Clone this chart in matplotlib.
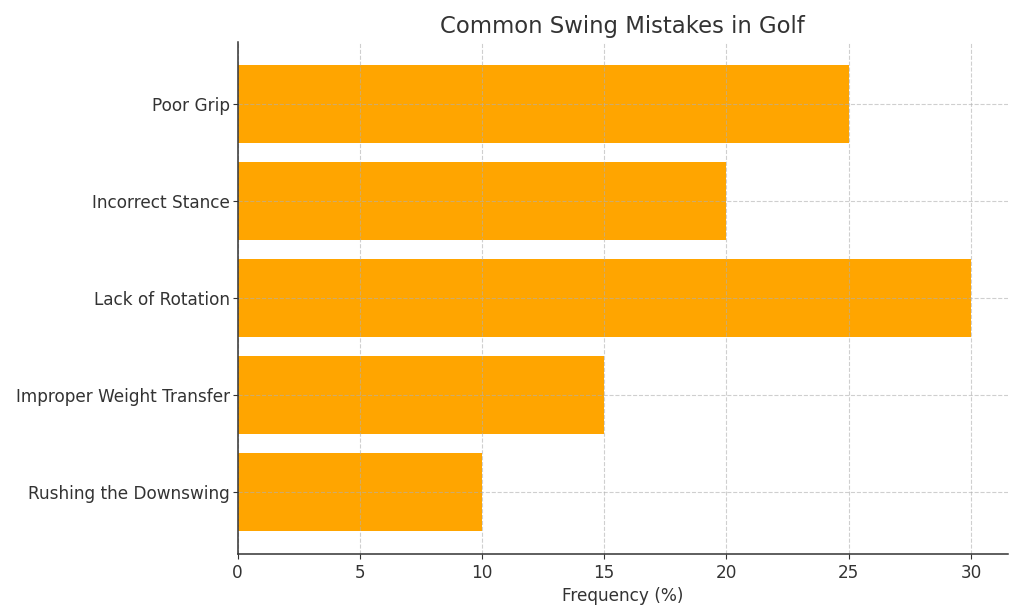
import matplotlib
matplotlib.use("Agg")
import matplotlib.pyplot as plt

# Данные
mistakes = ["Poor Grip", "Incorrect Stance", "Lack of Rotation",
            "Improper Weight Transfer", "Rushing the Downswing"]
frequency = [25, 20, 30, 15, 10]

text_color = "#333333"

fig, ax = plt.subplots(figsize=(10.24, 6.14), dpi=100)
ax.barh(mistakes, frequency, color="orange")
ax.invert_yaxis()

ax.set_title("Common Swing Mistakes in Golf", fontsize=16.4, color=text_color)
ax.set_xlabel("Frequency (%)", fontsize=12.2, color=text_color)
ax.tick_params(labelsize=12.2, labelcolor=text_color, colors=text_color, length=3.5)
ax.tick_params(axis="y", pad=2)
ax.grid(True, linestyle="--", color="#b0b0b0", linewidth=0.8, alpha=0.6)
ax.set_axisbelow(False)

for side in ["top", "right"]:
    ax.spines[side].set_visible(False)
for side in ["left", "bottom"]:
    ax.spines[side].set_color(text_color)
    ax.spines[side].set_linewidth(1.1)
    ax.spines[side].set_zorder(5)

fig.subplots_adjust(left=0.232, right=0.984, top=0.932, bottom=0.098)
fig.savefig("out.png")
